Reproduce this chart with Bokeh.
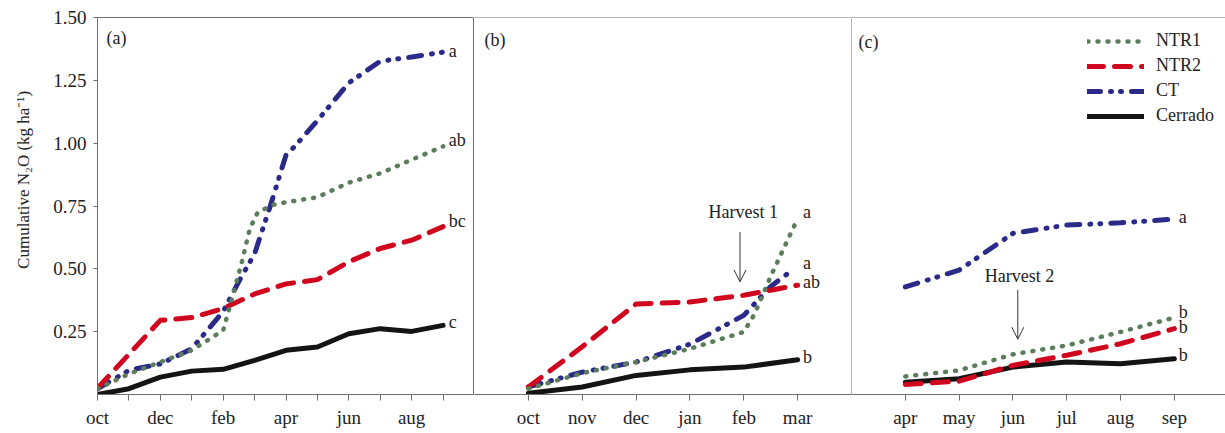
import math
from bokeh.plotting import figure
from bokeh.layouts import row
from bokeh.models import (Range1d, FixedTicker, Label, Arrow, OpenHead, Span,
                          Legend, LegendItem)
from bokeh.core.properties import value
from bokeh.embed import file_html
from bokeh.resources import INLINE

# ---------------- data ----------------
# panel (a): months from October (0 = oct ... 11 = sep)
a_months = ["oct", "nov", "dec", "jan", "feb", "mar", "apr", "may", "jun", "jul", "aug", "sep"]
a_ntr1_x = [0, 1, 2, 3, 4, 4.3, 4.6, 4.85, 5.1, 5.6, 6, 7, 8, 9, 10, 11]
a_ntr1_y = [0.023, 0.082, 0.129, 0.176, 0.255, 0.39, 0.53, 0.66, 0.725, 0.755, 0.765, 0.785, 0.843, 0.88, 0.934, 0.987]
a_ntr2_x = [0, 1, 2, 3, 4, 5, 6, 7, 8, 9, 10, 11]
a_ntr2_y = [0.025, 0.16, 0.295, 0.306, 0.342, 0.40, 0.44, 0.457, 0.528, 0.581, 0.614, 0.668]
a_ct_x = [0, 1, 2, 3, 4, 4.5, 5, 5.5, 6, 6.3, 7, 8, 9, 10, 11]
a_ct_y = [0.023, 0.096, 0.122, 0.182, 0.33, 0.45, 0.56, 0.75, 0.953, 0.99, 1.09, 1.24, 1.326, 1.343, 1.362]
a_cer_x = [0, 1, 2, 3, 4, 5, 6, 7, 8, 9, 10, 11]
a_cer_y = [0.0, 0.023, 0.069, 0.093, 0.10, 0.136, 0.176, 0.189, 0.242, 0.262, 0.251, 0.275]
a_letters = ["a", "ab", "bc", "c"]

# panel (b): 0 = oct ... 5 = mar
b_months = ["oct", "nov", "dec", "jan", "feb", "mar"]
b_ntr1_x = [0, 1, 2, 3, 4, 4.2, 4.5, 5]
b_ntr1_y = [0.023, 0.085, 0.129, 0.182, 0.249, 0.32, 0.47, 0.70]
b_ntr2_x = [0, 1, 2, 3, 4, 5]
b_ntr2_y = [0.03, 0.19, 0.36, 0.368, 0.395, 0.435]
b_ct_x = [0, 1, 2, 3, 4, 4.5, 4.87]
b_ct_y = [0.03, 0.089, 0.129, 0.20, 0.315, 0.43, 0.49]
b_cer_x = [0, 1, 2, 3, 4, 5]
b_cer_y = [0.005, 0.03, 0.076, 0.098, 0.109, 0.138]
b_letters = ["a", "a", "ab", "b"]

# panel (c): 0 = apr ... 5 = sep
c_months = ["apr", "may", "jun", "jul", "aug", "sep"]
c_ntr1_x = [0, 1, 2, 3, 4, 5]
c_ntr1_y = [0.072, 0.096, 0.16, 0.195, 0.249, 0.306]
c_ntr2_x = [0, 1, 2, 3, 4, 5]
c_ntr2_y = [0.04, 0.053, 0.116, 0.156, 0.202, 0.262]
c_ct_x = [0, 1, 1.5, 2, 3, 4, 5]
c_ct_y = [0.428, 0.495, 0.568, 0.641, 0.674, 0.683, 0.698]
c_cer_x = [0, 1, 2, 3, 4, 5]
c_cer_y = [0.049, 0.0625, 0.109, 0.129, 0.122, 0.142]
c_letters = ["a", "b", "b", "b"]

y_ticks = [0.25, 0.50, 0.75, 1.00, 1.25, 1.50]
series_names = ["NTR1", "NTR2", "CT", "Cerrado"]
y_title = "Cumulative N\u2082O (kg ha\u207b\u00b9)"

# ---------------- styles ----------------
FONT = "Liberation Serif"
TXT = "#222222"
FRAME = "#6e6e6e"
GREEN = "#5b7d5c"
RED = "#d0061e"
BLUE = "#2b2a88"
BLACK = "#141414"
H = 433
TOP = 17
BOTTOM = 39
TITLE_W = 45


def make_fig(width, xr, left_border, ylabels):
    p = figure(width=width, height=H, x_range=Range1d(*xr), y_range=Range1d(0, 1.5),
               output_backend="svg", toolbar_location=None,
               min_border_left=left_border, min_border_right=0,
               min_border_top=TOP, min_border_bottom=BOTTOM,
               y_axis_location="left" if ylabels else None)
    p.grid.visible = False
    p.background_fill_color = "white"
    p.border_fill_color = "white"
    for ax in p.axis:
        ax.axis_line_color = FRAME
        ax.major_tick_line_color = FRAME
        ax.minor_tick_line_color = None
        ax.major_tick_in = 0
        ax.major_label_text_font = FONT
        ax.major_label_text_font_size = "19px"
        ax.major_label_text_color = TXT
    p.xaxis.major_tick_out = 6
    p.xaxis.major_label_standoff = 6
    if ylabels:
        p.yaxis.major_tick_out = 4
        p.yaxis.major_label_standoff = 7
        p.yaxis.ticker = FixedTicker(ticks=y_ticks)
        p.yaxis.major_label_overrides = {t: f"{t:.2f}" for t in y_ticks}
    return p


def draw(p, xs, ys):
    r_cer = p.line(xs[3], ys[3], line_color=BLACK, line_width=5, line_join="round", line_cap="round")
    r_ct = p.line(xs[2], ys[2], line_color=BLUE, line_width=5, line_dash="13 10 1 9 1 10",
                  line_join="round", line_cap="round")
    r_ntr2 = p.line(xs[1], ys[1], line_color=RED, line_width=5, line_dash="16 11",
                    line_join="round", line_cap="round")
    r_ntr1 = p.line(xs[0], ys[0], line_color=GREEN, line_width=4.5, line_dash="1 9",
                    line_join="round", line_cap="round")
    return [r_ntr1, r_ntr2, r_ct, r_cer]


def letters(p, x, ys, texts):
    p.text(x=[x] * len(texts), y=ys, text=texts, text_font=value(FONT), text_font_size="18px",
           text_color=TXT, text_align="left", text_baseline="middle")


def panel_label(p, text, dx, dy):
    p.add_layout(Label(x=dx, y=dy, x_units="screen", y_units="screen", text=text,
                       text_font=FONT, text_font_size="18px", text_color=TXT,
                       text_baseline="middle", text_align="left"))


# ---------------- y-axis title strip (pixel coordinates) ----------------
pt = figure(width=TITLE_W, height=H, x_range=Range1d(0, TITLE_W), y_range=Range1d(H, 0),
            output_backend="svg", toolbar_location=None, min_border=0,
            x_axis_location=None, y_axis_location=None)
pt.grid.visible = False
pt.outline_line_color = None
pt.text(x=[22.5], y=[186.5], text=[y_title], angle=math.pi / 2,
        text_font=value(FONT), text_font_size="17px", text_color=TXT,
        text_align="center", text_baseline="middle")

# ---------------- panel (a) ----------------
pa = make_fig(474 - TITLE_W, (0, 12), 97 - TITLE_W, True)
pa.outline_line_color = FRAME
pa.xaxis.ticker = FixedTicker(ticks=list(range(len(a_months))))
pa.xaxis.major_label_overrides = {i: (m if i % 2 == 0 else "") for i, m in enumerate(a_months)}
draw(pa, [a_ntr1_x, a_ntr2_x, a_ct_x, a_cer_x], [a_ntr1_y, a_ntr2_y, a_ct_y, a_cer_y])
letters(pa, 11.18, [a_ct_y[-1] + 0.004, a_ntr1_y[-1] + 0.027, a_ntr2_y[-1] + 0.021, a_cer_y[-1] + 0.015],
        a_letters)
panel_label(pa, "(a)", 9, 357)

# ---------------- panel (b) ----------------
pb = make_fig(377, (-1, 6), 0, False)
pb.outline_line_color = None
pb.xaxis.ticker = FixedTicker(ticks=list(range(len(b_months))))
pb.xaxis.major_label_overrides = {i: m for i, m in enumerate(b_months)}
pb.add_layout(Span(location=1.5, dimension="width", line_color=FRAME, line_width=1))
draw(pb, [b_ntr1_x, b_ntr2_x, b_ct_x, b_cer_x], [b_ntr1_y, b_ntr2_y, b_ct_y, b_cer_y])
letters(pb, 5.1, [0.726, 0.523, 0.449, 0.150], b_letters)
panel_label(pb, "(b)", 10, 355)
pb.text(x=[3.99], y=[0.727], text=["Harvest 1"], text_font=value(FONT), text_font_size="18px",
        text_color=TXT, text_align="center", text_baseline="middle")
pb.add_layout(Arrow(x_start=3.93, y_start=0.647, x_end=3.93, y_end=0.448,
                    line_color="#333333", line_width=1,
                    end=OpenHead(size=12, line_color="#333333", line_width=1)))

# ---------------- panel (c) ----------------
pc = make_fig(374, (-1, 5.95), 0, False)
pc.outline_line_color = None
pc.xaxis.ticker = FixedTicker(ticks=list(range(len(c_months))))
pc.xaxis.major_label_overrides = {i: m for i, m in enumerate(c_months)}
pc.add_layout(Span(location=1.5, dimension="width", line_color=FRAME, line_width=1))
pc.add_layout(Span(location=-1, dimension="height", line_color=FRAME, line_width=1))
rs = draw(pc, [c_ntr1_x, c_ntr2_x, c_ct_x, c_cer_x], [c_ntr1_y, c_ntr2_y, c_ct_y, c_cer_y])
letters(pc, 5.08, [0.706, 0.33, 0.27, 0.157], c_letters)
panel_label(pc, "(c)", 7, 353)
pc.text(x=[2.12], y=[0.472], text=["Harvest 2"], text_font=value(FONT), text_font_size="18px",
        text_color=TXT, text_align="center", text_baseline="middle")
pc.add_layout(Arrow(x_start=2.09, y_start=0.416, x_end=2.09, y_end=0.22,
                    line_color="#333333", line_width=1,
                    end=OpenHead(size=12, line_color="#333333", line_width=1)))

legend = Legend(items=[LegendItem(label=n, renderers=[r]) for n, r in zip(series_names, rs)],
                location=(236, 268), glyph_width=57, glyph_height=20, label_height=20,
                spacing=4, padding=0, margin=0, label_standoff=12,
                border_line_color=None, background_fill_alpha=0,
                label_text_font=FONT, label_text_font_size="18px", label_text_color=TXT)
pc.add_layout(legend)

layout = row(pt, pa, pb, pc)
open("out.html", "w").write(file_html(layout, INLINE))
